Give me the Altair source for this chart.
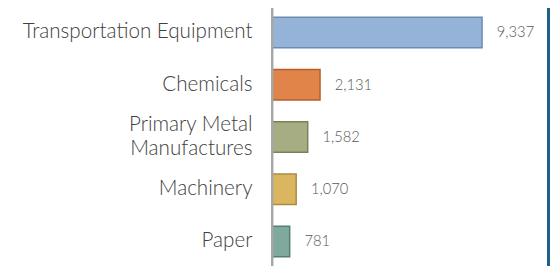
import altair as alt
import pandas as pd

categories = ["Transportation Equipment", "Chemicals", "Primary Metal|Manufactures", "Machinery", "Paper"]
values = [9337, 2131, 1582, 1070, 781]
fills = ["#95b3d7", "#e0844a", "#a6ad82", "#dab661", "#7ea99c"]
strokes = ["#6b8bb0", "#b35f2c", "#7a805c", "#ad8c3c", "#55806f"]

df = pd.DataFrame({"cat": categories, "val": values, "fill": fills, "stroke": strokes})

y = alt.Y("cat:N", sort=categories, title=None,
          scale=alt.Scale(paddingInner=0.418, paddingOuter=0.1315),
          axis=None)
x = alt.X("val:Q", scale=alt.Scale(domain=[0, 10000]), axis=None)

bars = alt.Chart(df).mark_bar(strokeWidth=1.5).encode(
    x=x, y=y,
    fill=alt.Fill("fill:N", scale=None),
    stroke=alt.Stroke("stroke:N", scale=None),
)

label_style = dict(align="right", baseline="middle", font="Lato", fontWeight=300,
                   fontSize=21, color="#404040", lineBreak="|", lineHeight=25)

cat_single = alt.Chart(df).transform_filter(
    "indexof(datum.cat, '|') < 0"
).mark_text(**label_style).encode(x=alt.value(-20), y=y, text="cat:N")

cat_multi = alt.Chart(df).transform_filter(
    "indexof(datum.cat, '|') >= 0"
).mark_text(dy=-12.5, **label_style).encode(x=alt.value(-20), y=y, text="cat:N")

labels = alt.Chart(df).mark_text(align="left", baseline="middle", dx=15, font="Lato", fontWeight=300,
                                  fontSize=15, color="#595959").encode(
    x=x, y=y,
    text=alt.Text("val:Q", format=","),
)

axis_line = alt.Chart(df).mark_rule(color="#a6a6a6", strokeWidth=2).encode(
    x=alt.value(0), y=alt.value(-4), y2=alt.value(270)
)

frame = alt.Chart(df).mark_rule(color="#1f5f8b", strokeWidth=3).encode(
    x=alt.value(281.5), y=alt.value(-10), y2=alt.value(270)
)

chart = alt.layer(bars, cat_single, cat_multi, labels, axis_line, frame).properties(
    width=229, height=258,
    autosize=alt.AutoSizeParams(type="none"),
    padding={"left": 269, "top": 0, "right": 54, "bottom": 0},
).configure_view(stroke=None)

chart.save("out.html", embed_options={"renderer": "svg", "actions": False})
